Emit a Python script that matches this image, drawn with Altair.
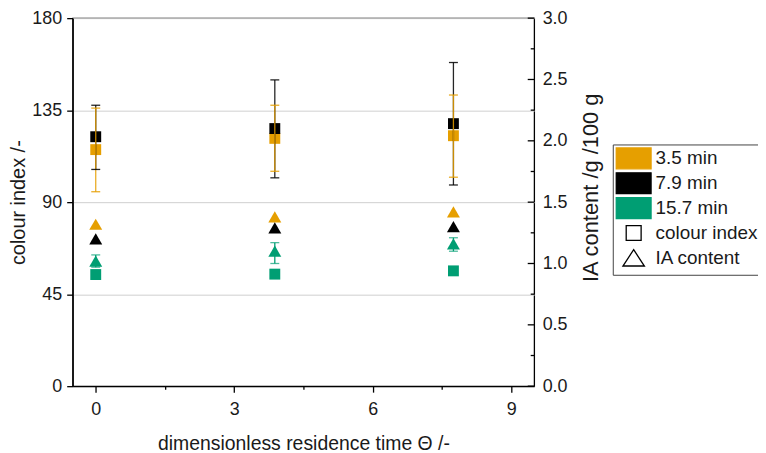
import altair as alt
import pandas as pd

# ---------------- data ----------------
theta = [0.0, 3.88, 7.75]
series = ["3.5 min", "7.9 min", "15.7 min"]

ci_mean = {"3.5 min": [115.7, 121.2, 122.5],
           "7.9 min": [122.0, 126.0, 128.4],
           "15.7 min": [54.6, 54.8, 56.4]}
ci_lo = {"3.5 min": [95.1, 105.1, 102.2],
         "7.9 min": [106.0, 101.9, 98.4],
         "15.7 min": [None, None, None]}
ci_hi = {"3.5 min": [136.0, 137.4, 142.4],
         "7.9 min": [137.4, 149.8, 158.3],
         "15.7 min": [None, None, None]}

ia_mean = {"3.5 min": [1.32, 1.38, 1.42],
           "7.9 min": [1.20, 1.29, 1.30],
           "15.7 min": [1.02, 1.10, 1.16]}
ia_lo = {"3.5 min": [None, None, None],
         "7.9 min": [None, None, None],
         "15.7 min": [0.97, 1.00, 1.10]}
ia_hi = {"3.5 min": [None, None, None],
         "7.9 min": [None, None, None],
         "15.7 min": [1.07, 1.17, 1.21]}

x_ticks = [0, 1.5, 3, 4.5, 6, 7.5, 9]
left_ticks = [0, 45, 90, 135, 180]
right_ticks = [0.0, 0.5, 1.0, 1.5, 2.0, 2.5, 3.0]
right_minor = [0.25, 0.75, 1.25, 1.75, 2.25, 2.75]

legend_keys = series + ["colour index", "IA content"]
colors = ["#E69F00", "#000000", "#009E73"]

# ---------------- tables ----------------
bar_order = ["7.9 min", "3.5 min", "15.7 min"]
rows_ci, rows_ia = [], []
for s in series:
    for i, t in enumerate(theta):
        rows_ci.append({"key": s, "theta": t, "mean": ci_mean[s][i], "lo": ci_lo[s][i], "hi": ci_hi[s][i]})
        rows_ia.append({"key": s, "theta": t, "mean": ia_mean[s][i], "lo": ia_lo[s][i], "hi": ia_hi[s][i]})
ci_df = pd.DataFrame(rows_ci)
ia_df = pd.DataFrame(rows_ia)
ci_err = pd.concat([ci_df[ci_df.key == k] for k in bar_order]).dropna()
ia_err = pd.concat([ia_df[ia_df.key == k] for k in bar_order]).dropna()

FONT = "Liberation Sans"
W, H = 464, 370
TOP = 9

# legend symbols (unit paths; the trailing moves give every entry the same height)
swatch = "M-1.75,-1.05H1.75V1.05H-1.75Z"
open_sq = "M-0.75,-0.75H0.75V0.75H-0.75ZM0,-1.05M0,1.05"
open_tri = "M0,-0.82L1.08,0.82L-1.08,0.82ZM0,-1.05M0,1.05"

color_scale = alt.Scale(domain=series, range=colors)
fill_scale = alt.Scale(domain=legend_keys, range=colors + ["white", "white"])
stroke_scale = alt.Scale(domain=legend_keys, range=colors + ["black", "black"])
shape_scale = alt.Scale(domain=legend_keys, range=[swatch, swatch, swatch, open_sq, open_tri])

x_scale = alt.Scale(domain=[-0.5, 9.5], nice=False, zero=False)
x_axis = alt.Axis(values=x_ticks,
                  labelExpr="datum.value % 3 == 0 ? datum.label : ''",
                  tickSize={"condition": {"test": "datum.value % 3 != 0", "value": 3}, "value": 6},
                  title="dimensionless residence time Θ /-", titleFontSize=19.5,
                  grid=False, labelPadding=8, titlePadding=17)
x_enc = alt.X("theta:Q", scale=x_scale, axis=x_axis)

left_dom = [0, 180]
right_dom = [0, 3]
col = alt.Color("key:N", scale=color_scale, legend=None)

# ---------------- colour index (left axis) ----------------
squares = alt.Chart(ci_df).mark_point(shape="square", filled=True, size=120, opacity=1, strokeWidth=0).encode(
    x=x_enc,
    y=alt.Y("mean:Q", scale=alt.Scale(domain=left_dom, nice=False),
            axis=alt.Axis(orient="left", values=left_ticks, title="colour index /-", titleFontSize=20,
                          grid=True, gridColor="#d0d0d0", gridWidth=1,
                          tickSize=6, labelPadding=5, titlePadding=3)),
    color=col,
)
ci_rule = alt.Chart(ci_err).mark_rule(strokeWidth=1.3, opacity=0.85).encode(
    x=x_enc, y=alt.Y("lo:Q", scale=alt.Scale(domain=left_dom, nice=False), axis=None), y2="hi:Q",
    color=col)
ci_caps = alt.Chart(ci_err).transform_fold(["lo", "hi"], as_=["end", "val"]).mark_tick(
    orient="horizontal", size=9, thickness=1.3, opacity=0.85).encode(
    x=x_enc, y=alt.Y("val:Q", scale=alt.Scale(domain=left_dom, nice=False), axis=None),
    color=col)

# ---------------- IA content (right axis) ----------------
triangles = alt.Chart(ia_df).mark_point(shape="triangle-up", filled=True, size=170, opacity=1, strokeWidth=0).encode(
    x=x_enc,
    y=alt.Y("mean:Q", scale=alt.Scale(domain=right_dom, nice=False),
            axis=alt.Axis(orient="right", values=right_ticks, format=".1f", title="IA content /g /100 g",
                          titleFontSize=22, ticks=False, domain=False, grid=False, labelPadding=8,
                          titleAngle=270, titlePadding=36, titleY=187 - 8 - TOP)),
    color=col,
)
ia_rule = alt.Chart(ia_err).mark_rule(strokeWidth=1.3).encode(
    x=x_enc, y=alt.Y("lo:Q", scale=alt.Scale(domain=right_dom, nice=False), axis=None), y2="hi:Q",
    color=col)
ia_caps = alt.Chart(ia_err).transform_fold(["lo", "hi"], as_=["end", "val"]).mark_tick(
    orient="horizontal", size=9, thickness=1.3).encode(
    x=x_enc, y=alt.Y("val:Q", scale=alt.Scale(domain=right_dom, nice=False), axis=None),
    color=col)
# inward ticks of the right axis
rt_major = alt.Chart(pd.DataFrame({"v": right_ticks})).mark_rule(color="black", strokeWidth=1.3).encode(
    y=alt.Y("v:Q", scale=alt.Scale(domain=right_dom, nice=False), axis=None),
    x=alt.value(W - 6.5), x2=alt.value(W))
rt_minor = alt.Chart(pd.DataFrame({"v": right_minor})).mark_rule(color="black", strokeWidth=1.3).encode(
    y=alt.Y("v:Q", scale=alt.Scale(domain=right_dom, nice=False), axis=None),
    x=alt.value(W - 3.5), x2=alt.value(W))

# ---------------- legend helper ----------------
leg = alt.Legend(title=None, orient="none", legendX=543, legendY=144 - 8 - TOP,
                 symbolSize=400, symbolStrokeWidth=1.3, symbolOpacity=1,
                 symbolFillColor="white", symbolStrokeColor="black",
                 labelFont=FONT, labelFontSize=19, labelColor="#1a1a1a",
                 padding=3, symbolOffset=7, labelOffset=11, rowPadding=-3.5,
                 strokeColor="#444444", labelLimit=200)
legend_layer = alt.Chart(pd.DataFrame({"key": legend_keys})).transform_filter("false").mark_point(
    filled=True).encode(
    fill=alt.Fill("key:N", scale=fill_scale, legend=leg),
    stroke=alt.Stroke("key:N", scale=stroke_scale, legend=leg),
    shape=alt.Shape("key:N", scale=shape_scale, legend=leg),
)

chart = alt.layer(
    squares, ci_rule, ci_caps, triangles, ia_rule, ia_caps, rt_major, rt_minor, legend_layer
).resolve_scale(y="independent").properties(
    width=W, height=H,
    autosize=alt.AutoSizeParams(type="none"),
    padding={"left": 65, "top": TOP, "right": 225, "bottom": 70},
).configure_view(stroke="black", strokeWidth=1.3).configure_axis(
    domainColor="black", domainWidth=1.3, tickColor="black", tickWidth=1.3,
    labelFont=FONT, labelFontSize=18, labelColor="#1a1a1a",
    titleFont=FONT, titleFontSize=19, titleFontWeight="normal", titleColor="#1a1a1a",
)

chart.save("out.html", embed_options={"renderer": "svg", "actions": False})
